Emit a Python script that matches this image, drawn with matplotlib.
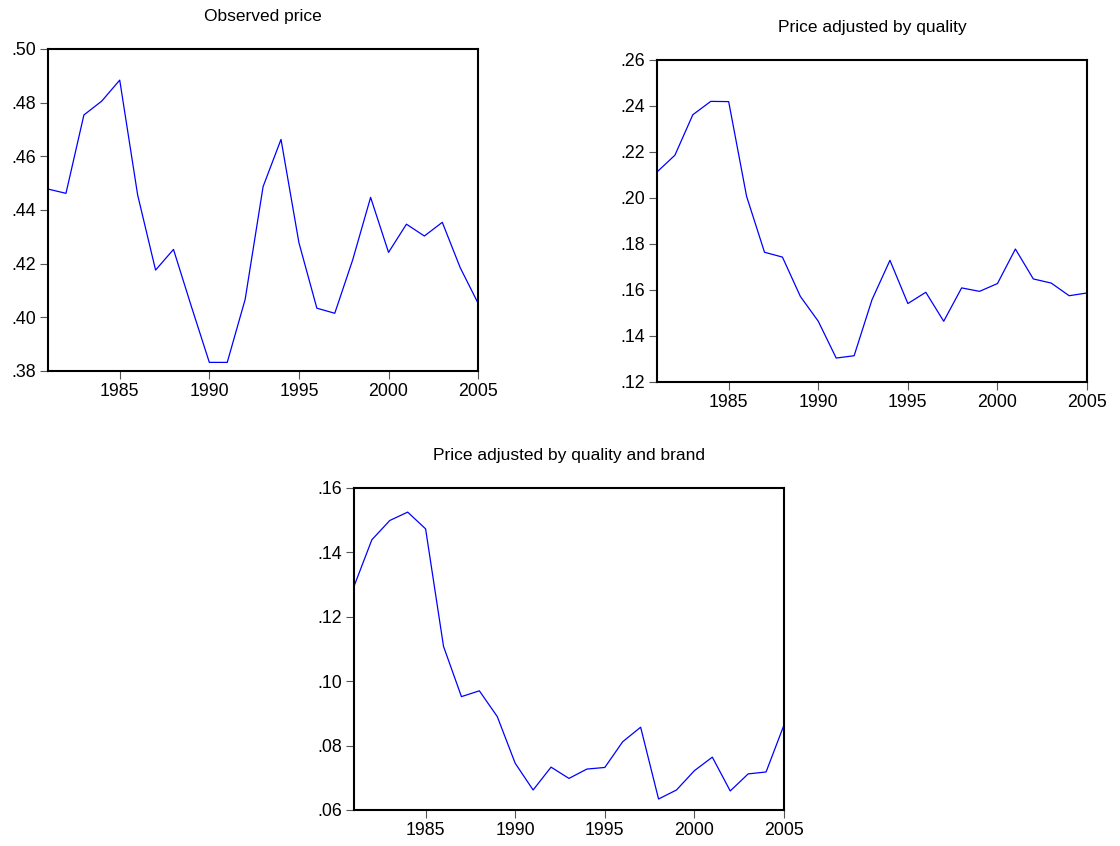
import numpy as np
import matplotlib
matplotlib.use('Agg')
import matplotlib.pyplot as plt
from matplotlib.ticker import FuncFormatter

plt.rcParams['font.family'] = ['Liberation Sans', 'DejaVu Sans']

years = np.arange(1981, 2006)

#Observed price
observed = [0.4478, 0.4462, 0.4754, 0.4806, 0.4884, 0.4456, 0.4176, 0.4253, 0.4040, 0.3832,
            0.3832, 0.4067, 0.4487, 0.4663, 0.4278, 0.4034, 0.4015, 0.4214, 0.4447, 0.4242,
            0.4347, 0.4303, 0.4354, 0.4185, 0.4052]

#Price adjusted by quality
quality = [0.2113, 0.2186, 0.2362, 0.2420, 0.2419, 0.2007, 0.1764, 0.1743, 0.1572, 0.1464,
           0.1304, 0.1314, 0.1558, 0.1729, 0.1541, 0.1590, 0.1464, 0.1609, 0.1594, 0.1628,
           0.1778, 0.1648, 0.1630, 0.1575, 0.1587]

#Price adjusted by quality and brand
brand = [0.1294, 0.1439, 0.1499, 0.1525, 0.1473, 0.1108, 0.0952, 0.0970, 0.0890, 0.0745,
         0.0662, 0.0733, 0.0698, 0.0727, 0.0732, 0.0812, 0.0857, 0.0634, 0.0662, 0.0722,
         0.0764, 0.0659, 0.0712, 0.0718, 0.0864]

x_ticks = [1985, 1990, 1995, 2000, 2005]


def dot_fmt(v, pos):
    s = '%.2f' % v
    return s[1:] if s.startswith('0') else s


def draw(ax, y, title, ylo, yhi, ystep):
    ax.plot(years, y, color='#0000ff', linewidth=0.9)
    ax.set_xlim(1981, 2005)
    ax.set_ylim(ylo, yhi)
    ax.set_xticks(x_ticks)
    ax.set_yticks(np.arange(ylo, yhi + ystep / 2, ystep))
    ax.yaxis.set_major_formatter(FuncFormatter(dot_fmt))
    ax.tick_params(direction='out', length=6, width=0.8, color='#555555',
                   labelsize=12.8, pad=2.5)
    for s in ax.spines.values():
        s.set_linewidth(1.5)
    ax.set_title(title, fontsize=12.5, pad=20)


fig = plt.figure(figsize=(11.2, 8.46), dpi=100)
ax1 = fig.add_axes([0.0429, 0.5615, 0.384, 0.3806])
ax2 = fig.add_axes([0.5866, 0.5485, 0.384, 0.3806])
ax3 = fig.add_axes([0.316, 0.0426, 0.384, 0.3806])

draw(ax1, observed, 'Observed price', 0.38, 0.50, 0.02)
draw(ax2, quality, 'Price adjusted by quality', 0.12, 0.26, 0.02)
draw(ax3, brand, 'Price adjusted by quality and brand', 0.06, 0.16, 0.02)

fig.savefig('out.png', dpi=100)
